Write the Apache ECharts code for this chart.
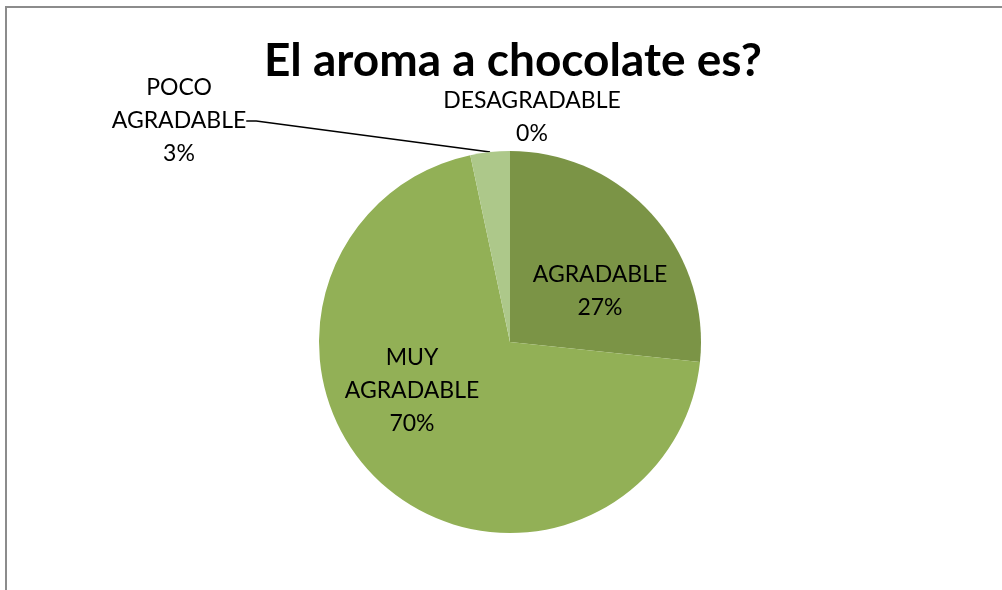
<!DOCTYPE html>
<html>
<head>
<meta charset="utf-8">
<script src="https://cdn.jsdelivr.net/npm/echarts@6/dist/echarts.min.js"></script>
<style>
  html, body { margin: 0; padding: 0; background: #fff; }
  #aromaChart { width: 1002px; height: 590px; }
</style>
</head>
<body>
<div id="aromaChart"></div>
<script>
// respuestas (de 30 encuestados), en orden horario desde arriba
const categories = ['AGRADABLE', 'MUY AGRADABLE', 'POCO AGRADABLE', 'DESAGRADABLE']
const counts = [8, 21, 1, 0]
const colors = ['#7b9446', '#92b056', '#adc88a', '#c4d7a8']

// donde Excel dejo cada etiqueta (centro del bloque de texto)
const labelSpots = {
  'AGRADABLE': [600, 291],
  'MUY AGRADABLE': [412, 391],
  'POCO AGRADABLE': [179, 121],
  'DESAGRADABLE': [532, 117]
}

const chart = echarts.init(document.getElementById('aromaChart'))

let option = {
  animation: false,
  title: {
    text: 'El aroma a chocolate es?',
    left: 264,
    top: 38,
    padding: 0,
    textStyle: {
      fontFamily: 'Lato',
      fontWeight: 'bold',
      fontSize: 46,
      color: '#000'
    }
  },
  graphic: [{
    type: 'rect',
    shape: { x: 6, y: 7, width: 1100, height: 700 },
    style: { fill: 'none', stroke: '#8c8c8c', lineWidth: 2 },
    silent: true
  }],
  series: [{
    type: 'pie',
    center: [510, 342],
    radius: 191,
    startAngle: 90,
    clockwise: true,
    percentPrecision: 0,
    avoidLabelOverlap: false,
    label: {
      show: true,
      formatter: p => p.name.replace(' ', '\n') + '\n' + p.percent + '%',
      fontFamily: 'Lato',
      fontSize: 23,
      lineHeight: 33,
      color: '#000',
      align: 'center'
    },
    labelLine: { show: false },
    labelLayout: function (params) {
      const spot = labelSpots[params.text.split('\n').slice(0, -1).join(' ')]
      if (!spot) return {}
      return { x: spot[0], y: spot[1], align: 'center', verticalAlign: 'middle' }
    },
    data: categories.map((name, i) => {
      const item = { name: name, value: counts[i], itemStyle: { color: colors[i] } }
      if (name === 'POCO AGRADABLE') {
        item.label = { position: 'outside' }
        item.labelLine = { show: true, length: 10, length2: 10, lineStyle: { color: '#000', width: 1.5 } }
      } else if (name === 'DESAGRADABLE') {
        item.label = { position: 'outside' }
      } else {
        item.label = { position: 'inside' }
      }
      return item
    }),
    itemStyle: { borderWidth: 0 },
    emphasis: { disabled: true }
  }]
}

option && chart.setOption(option)
window.addEventListener('resize', function () {
  chart.resize()
})
</script>
</body>
</html>
